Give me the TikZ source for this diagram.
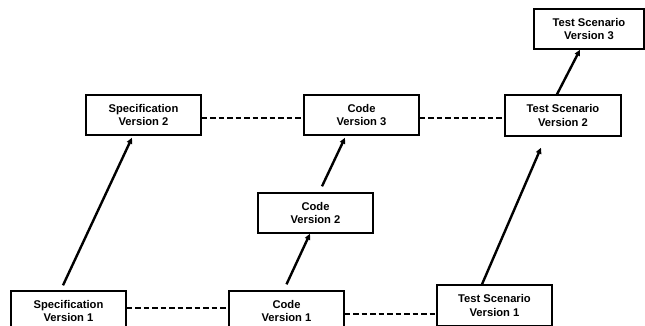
\documentclass[tikz,border=0pt]{standalone}
\usepackage{fontspec}
\setmainfont{Liberation Sans}
\usetikzlibrary{arrows.meta}
\begin{document}
\begin{tikzpicture}[x=1pt,y=-1pt,
  box/.style={draw, line width=1.4pt, rectangle, minimum width=115pt, minimum height=40pt,
    inner sep=0pt, align=center, font=\fontsize{11.2}{13.5}\selectfont\bfseries},
  arr/.style={line width=2.4pt, -{Triangle[length=6pt,width=5.5pt]}},
  dashline/.style={line width=2.6pt, dash pattern=on 5.5pt off 3pt}]
\useasboundingbox (0,0) rectangle (645,326);
\node[box] (spec1) at (68.5,311) {Specification\\Version 1};
\node[box] (code1) at (286.5,311) {Code\\Version 1};
\node[box, minimum height=41pt] (test1) at (494.5,305.5) {Test Scenario\\Version 1};
\node[box] (spec2) at (143.5,115) {Specification\\Version 2};
\node[box] (code3) at (361.5,115) {Code\\Version 3};
\node[box] (code2) at (315.5,213) {Code\\Version 2};
\node[box, minimum width=116pt, minimum height=41pt] (test2) at (563,115.5) {Test Scenario\\Version 2};
\node[box, minimum width=110pt] (test3) at (589,29) {Test Scenario\\Version 3};
% dashed connectors
\draw[dashline] ([yshift=3]spec1.east) -- ([yshift=3]spec1.east -| code1.west);
\draw[dashline] ([yshift=-3]code1.east) -- ([yshift=-3]code1.east -| test1.west);
\draw[dashline] ([yshift=-3]spec2.east) -- ([yshift=-3]spec2.east -| code3.west);
\draw[dashline] ([yshift=-3]code3.east) -- ([yshift=-3]code3.east -| test2.west);
% arrows
\draw[arr] ([xshift=-5.5,yshift=5]spec1.north) -- ([xshift=-11.5,yshift=-2]spec2.south);
\draw[arr] ([yshift=6]code1.north) -- ([xshift=-5.5]code2.south);
\draw[arr] ([xshift=6.5,yshift=6]code2.north) -- ([xshift=-16.5,yshift=-2]code3.south);
\draw[arr] ([xshift=-12.5]test1.north) -- ([xshift=-22,yshift=-11]test2.south);
\draw[arr] ([xshift=-6]test2.north) -- ([xshift=-9]test3.south);
\end{tikzpicture}
\end{document}
